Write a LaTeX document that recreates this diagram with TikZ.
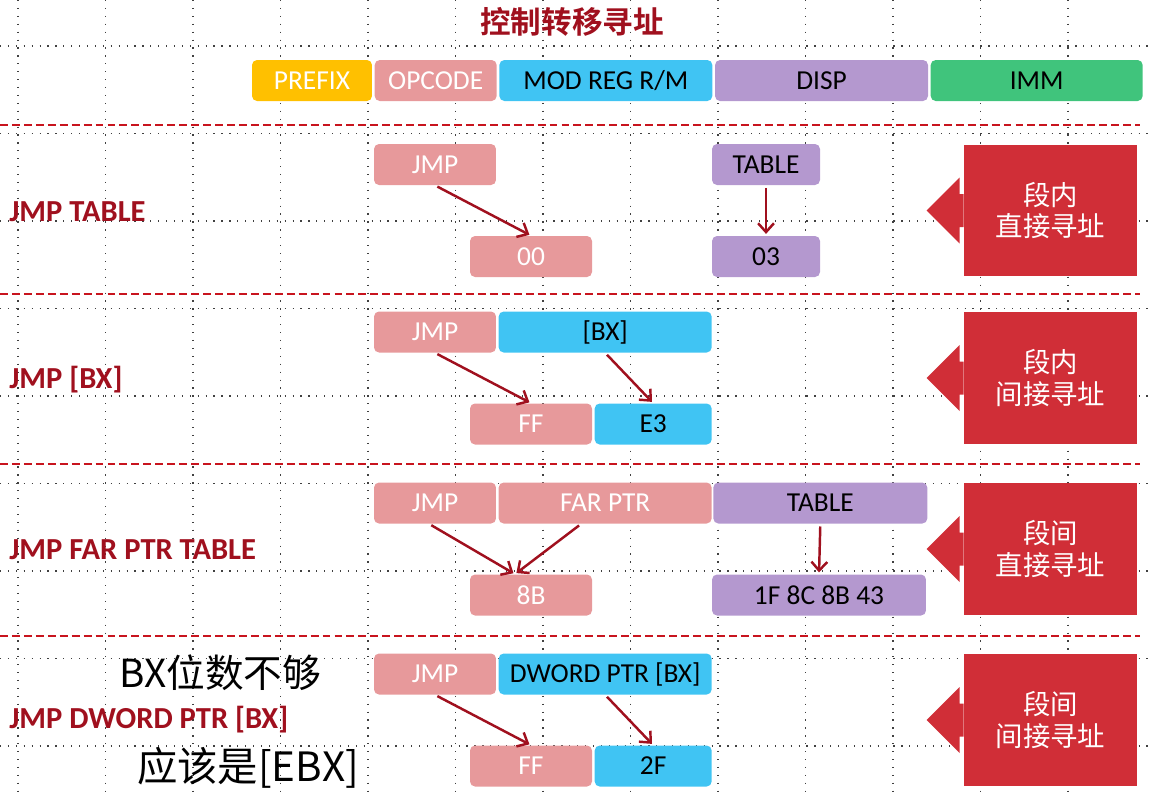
\documentclass[tikz,border=0pt]{standalone}
\usepackage{fontspec}
\setmainfont{Carlito}
\newfontfamily\cjk{Noto Sans CJK SC}[BoldFont={Noto Sans CJK SC Bold}]
\usetikzlibrary{positioning, calc, arrows.meta}

\definecolor{prefixc}{HTML}{FFC000}
\definecolor{opc}{HTML}{E7999B}
\definecolor{modc}{HTML}{40C4F3}
\definecolor{dispc}{HTML}{B498CF}
\definecolor{immc}{HTML}{40C47C}
\definecolor{kindc}{HTML}{D02E37}
\definecolor{darkred}{HTML}{A0101E}
\definecolor{sepc}{HTML}{C8141E}

\newcommand\fieldfont{\fontsize{15.6}{18}\selectfont}
\newcommand\labelfont{\fontsize{17.4}{20}\selectfont\bfseries}
\newcommand\kindfont{\cjk\fontsize{15.6}{18}\selectfont}

\begin{document}
\begin{tikzpicture}[x=0.02cm, y=-0.02cm,
    field/.style={rounded corners=0.1cm, minimum height=0.82cm, inner sep=0pt, font=\fieldfont},
    opfield/.style={field, fill=opc, text=white, minimum width=2.44cm},
    modfield/.style={field, fill=modc, minimum width=4.26cm},
    dispfield/.style={field, fill=dispc, minimum width=4.28cm},
    kind/.style={fill=kindc, text=white, minimum width=3.46cm, minimum height=2.64cm, align=center, font=\kindfont},
    instr/.style={anchor=west, inner sep=0pt, text=darkred, font=\labelfont},
    link/.style={draw=darkred, line width=1.4pt, -{Straight Barb[length=5pt,width=9pt]}, shorten <=1.5pt, shorten >=1pt},
    sep/.style={draw=sepc, line width=1.4pt, dash pattern=on 4.5pt off 2.3pt},
    hand/.style={font=\cjk\fontsize{22}{24}\selectfont}]

\useasboundingbox (0,0) rectangle (1151,795);
% dotted grid
\foreach \gx in {0,...,12}
  \draw[black!75, line width=0.7pt, dash pattern=on 0.7pt off 3.8pt] (18+87.5*\gx,0) -- (18+87.5*\gx,795);
\foreach \gy in {0,...,8}
  \draw[black!75, line width=0.7pt, dash pattern=on 0.7pt off 3.8pt] (0,46+87.5*\gy) -- (1151,46+87.5*\gy);

\node[text=darkred, font=\cjk\bfseries\fontsize{17.4}{20}\selectfont] (title) at (572,22) {控制转移寻址};

% instruction format
\node[field, fill=prefixc, text=white, minimum width=2.4cm] (prefix) at (312,80.5) {PREFIX};
\node[opfield, right=0.04cm of prefix] (opcode) {OPCODE};
\node[modfield, right=0.04cm of opcode] (modrm) {MOD REG R/M};
\node[dispfield, minimum width=4.26cm, right=0.04cm of modrm] (disp) {DISP};
\node[field, fill=immc, minimum width=4.24cm, right=0.04cm of disp] (imm) {IMM};

\foreach \sy in {125,294,464,636}
  \draw[sep] (0,\sy) -- (1140,\sy);

% JMP TABLE
\node[instr] (lblA) at (9,212) {JMP TABLE};
\node[opfield] (jmpA) at (435,164.5) {JMP};
\node[dispfield, minimum width=2.16cm] (tblA) at (766,164.5) {TABLE};
\node[opfield] (codeA) at (531,256.5) {00};
\node[dispfield, minimum width=2.16cm] (offA) at (766,256.5) {03};
\draw[link] (jmpA.south) -- (codeA.north);
\draw[link] (tblA.south) -- (offA.north);
\node[kind] (kindA) at (1050.5,210.5) {段内\\直接寻址};

% JMP [BX]
\node[instr] (lblB) at (9,380) {JMP [BX]};
\node[opfield] (jmpB) at (435,332) {JMP};
\node[modfield, right=0.04cm of jmpB] (regB) {[BX]};
\node[opfield] (codeB) at (531,424) {FF};
\node[modfield, minimum width=2.34cm, right=0.04cm of codeB] (modB) {E3};
\draw[link] (jmpB.south) -- (codeB.north);
\draw[link] (regB.south) -- (modB.north);
\node[kind] (kindB) at (1050.5,378) {段内\\间接寻址};

% JMP FAR PTR TABLE
\node[instr] (lblC) at (9,550) {JMP FAR PTR TABLE};
\node[opfield] (jmpC) at (435,503) {JMP};
\node[opfield, minimum width=4.26cm, right=0.04cm of jmpC] (farC) {FAR PTR};
\node[dispfield, right=0.02cm of farC] (tblC) {TABLE};
\node[opfield] (codeC) at (531,595) {8B};
\node[dispfield] (addrC) at (819,595) {1F 8C 8B 43};
\draw[link] ([xshift=-0.12cm]jmpC.south) -- ([xshift=-0.32cm]codeC.north);
\draw[link] ([xshift=-0.48cm]farC.south) -- ([xshift=-0.32cm]codeC.north);
\draw[link] (tblC.south) -- (addrC.north);
\node[kind] (kindC) at (1050.5,549) {段间\\直接寻址};

% JMP DWORD PTR [BX]
\node[instr] (lblD) at (9,720) {JMP DWORD PTR [BX]};
\node[opfield] (jmpD) at (435,674) {JMP};
\node[modfield, right=0.04cm of jmpD] (memD) {DWORD PTR [BX]};
\node[opfield] (codeD) at (531,766) {FF};
\node[modfield, minimum width=2.34cm, right=0.04cm of codeD] (modD) {2F};
\draw[link] (jmpD.south) -- (codeD.north);
\draw[link] (memD.south) -- (modD.north);
\node[kind] (kindD) at (1050.5,720) {段间\\间接寻址};

\foreach \k in {kindA,kindB,kindC,kindD}
  \fill[kindc] ($(\k.west)+(0,-16.5)$) -- ++(-4,0) -- ++(0,-16.5) -- ++(-33,33) -- ++(33,33) -- ++(0,-16.5) -- ++(4,0) -- cycle;

\node[hand] (noteA) at (220,673) {BX位数不够};
\node[hand, font=\cjk\fontsize{23}{25}\selectfont] (noteB) at (248,768) {应该是[EBX]};
\end{tikzpicture}
\end{document}
